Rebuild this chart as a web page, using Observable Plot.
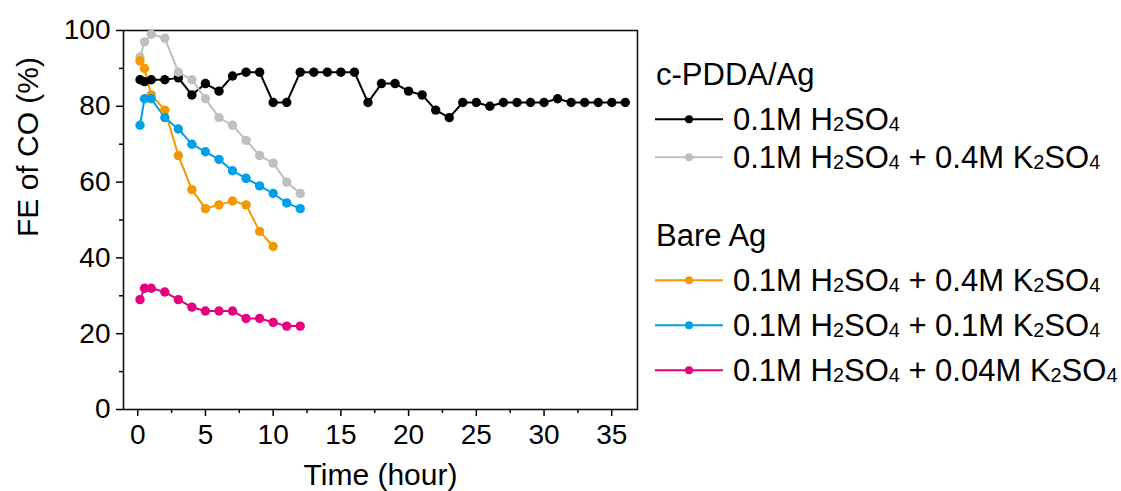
<!DOCTYPE html>
<html><head><meta charset="utf-8">
<script src="https://cdn.jsdelivr.net/npm/d3@7"></script>
<script src="https://cdn.jsdelivr.net/npm/@observablehq/plot@0.6"></script>
<style>
body{margin:0;background:#fff;font-family:"Liberation Sans",Arial,sans-serif;}
#wrap{position:relative;width:1121px;height:491px;background:#fff;}
#chart{position:absolute;left:0;top:0;}
.lg{position:absolute;font-size:31px;line-height:31px;height:31px;white-space:nowrap;color:#000;}
.lg svg{position:absolute;left:0;top:0;}
.lg .t{position:absolute;left:78px;top:0;}
.lg.h .t{left:1px;}
.lg sub{font-size:0.64em;vertical-align:-0.06em;line-height:0;}
</style></head><body><div id="wrap"><div id="chart"></div></div>
<script>
// ---- data ----
const timeLong = [0.17,0.5,1,2,3,4,5,6,7,8,9,10,11,12,13,14,15,16,17,18,19,20,21,22,23,24,25,26,27,28,29,30,31,32,33,34,35,36];
const timeShort = [0.17,0.5,1,2,3,4,5,6,7,8,9,10,11,12];
const timeOrange = [0.17,0.5,1,2,3,4,5,6,7,8,9,10];
const pddaH2SO4 = [87,86.5,87,87,87.5,83,86,84,88,89,89,81,81,89,89,89,89,89,81,86,86,84,83,79,77,81,81,80,81,81,81,81,82,81,81,81,81,81];
const pddaK2SO4_04 = [93,97,99,98,89,87,82,77,75,71,67,65,60,57];
const bareK2SO4_04 = [92,90,83,79,67,58,53,54,55,54,47,43];
const bareK2SO4_01 = [75,82,82,77,74,70,68,66,63,61,59,57,54.5,53];
const bareK2SO4_004 = [29,32,32,31,29,27,26,26,26,24,24,23,22,22];

const seriesKeys = ["pdda-h2so4","pdda-k04","bare-k04","bare-k01","bare-k004"];
const seriesColors = ["#000000","#bfbfbf","#f39800","#00a0e9","#e4007f"];
const seriesLabels = [
  "0.1M H<sub>2</sub>SO<sub>4</sub>",
  "0.1M H<sub>2</sub>SO<sub>4</sub> + 0.4M K<sub>2</sub>SO<sub>4</sub>",
  "0.1M H<sub>2</sub>SO<sub>4</sub> + 0.4M K<sub>2</sub>SO<sub>4</sub>",
  "0.1M H<sub>2</sub>SO<sub>4</sub> + 0.1M K<sub>2</sub>SO<sub>4</sub>",
  "0.1M H<sub>2</sub>SO<sub>4</sub> + 0.04M K<sub>2</sub>SO<sub>4</sub>"
];
const groupNames = ["c-PDDA/Ag","Bare Ag"];
const groupMembers = [[0,1],[2,3,4]];
const xMajor = [0,5,10,15,20,25,30,35];
const xMinor = [2.5,7.5,12.5,17.5,22.5,27.5,32.5];
const yMajor = [0,20,40,60,80,100];
const yMinor = [10,30,50,70,90];
const xTitle = "Time (hour)";
const yTitle = "FE of CO (%)";

const seriesTimes = [timeLong,timeShort,timeOrange,timeShort,timeShort];
const seriesValues = [pddaH2SO4,pddaK2SO4_04,bareK2SO4_04,bareK2SO4_01,bareK2SO4_004];
const rows = [];
seriesKeys.forEach((k,si)=>seriesTimes[si].forEach((t,i)=>rows.push({series:k,t,fe:seriesValues[si][i]})));

const font = "Liberation Sans, Arial, sans-serif";
const plot = Plot.plot({
  width: 650, height: 491,
  marginLeft: 123, marginRight: 13, marginTop: 30, marginBottom: 82,
  style: {fontFamily: font, background: "white", color: "#000", overflow: "visible"},
  x: {domain: [-1.05, 36.9]},
  y: {domain: [0, 100]},
  color: {domain: seriesKeys, range: seriesColors},
  marks: [
    Plot.axisX({ticks: xMajor, tickSize: 7, tickPadding: 8, fontSize: 28, label: null, tickFormat: d => String(d), strokeWidth: 1.5}),
    Plot.axisX({ticks: xMinor, tickSize: 4, tickFormat: () => "", label: null, strokeWidth: 1.5}),
    Plot.axisY({ticks: yMajor, tickSize: 7, tickPadding: 6, fontSize: 28, label: null, tickFormat: d => String(d), strokeWidth: 1.5}),
    Plot.axisY({ticks: yMinor, tickSize: 4, tickFormat: () => "", label: null, strokeWidth: 1.5}),
    Plot.frame({stroke: "#111", strokeWidth: 1.6}),
    Plot.line(rows, {x: "t", y: "fe", z: "series", stroke: "series", strokeWidth: 2}),
    Plot.dot(rows, {x: "t", y: "fe", fill: "series", r: 4.7}),
    Plot.text([xTitle], {frameAnchor: "bottom", lineAnchor: "bottom", dy: 75, fontSize: 30, fill: "#000"}),
    Plot.text([yTitle], {frameAnchor: "left", lineAnchor: "middle", rotate: -90, dx: -95, dy: 17, fontSize: 30, fill: "#000"})
  ]
});
document.getElementById("chart").appendChild(plot);

// ---- legend (HTML, right of the plot) ----
const wrap = document.getElementById("wrap");
const groupBaselines = [85, 246];
const rowBaselines = [[130,168],[291,336.5,381.5]];
const asc = 26.3;
const mid = 15.2;
groupNames.forEach((g,gi)=>{
  const h = document.createElement("div");
  h.className = "lg h";
  h.style.left = "655px"; h.style.top = (groupBaselines[gi]-asc)+"px";
  h.innerHTML = `<span class="t">${g}</span>`;
  wrap.appendChild(h);
  groupMembers[gi].forEach((si,ri)=>{
    const d = document.createElement("div");
    d.className = "lg";
    d.style.left = "655px"; d.style.top = (rowBaselines[gi][ri]-asc)+"px";
    const c = seriesColors[si];
    d.innerHTML = `<svg width="70" height="31"><line x1="0" x2="68" y1="${mid}" y2="${mid}" stroke="${c}" stroke-width="2"/><circle cx="34" cy="${mid}" r="4" fill="${c}"/></svg><span class="t">${seriesLabels[si]}</span>`;
    wrap.appendChild(d);
  });
});
</script>
</body></html>
